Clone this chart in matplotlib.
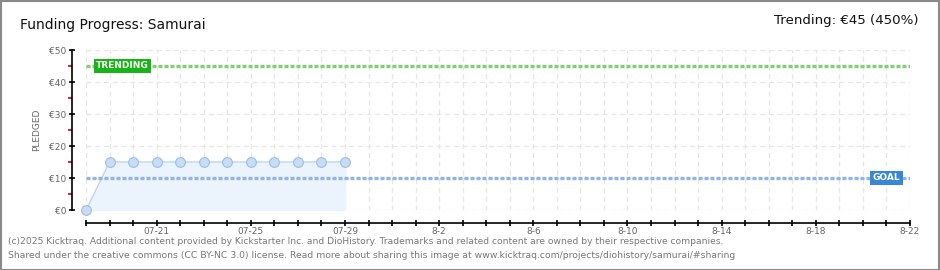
import matplotlib
matplotlib.use('agg')
import matplotlib.pyplot as plt
import matplotlib.dates as mdates
from matplotlib.patches import Rectangle
import pandas as pd
import numpy as np

# Data
dates = ['2025-07-18', '2025-07-19', '2025-07-20', '2025-07-21', '2025-07-22', '2025-07-23',
         '2025-07-24', '2025-07-25', '2025-07-26', '2025-07-27', '2025-07-28', '2025-07-29']
pledged = [0, 15, 15, 15, 15, 15, 15, 15, 15, 15, 15, 15]
goal = 10
trending = 45
x_start = '2025-07-18'
x_end = '2025-08-22'
tick_dates = ['2025-07-21', '2025-07-25', '2025-07-29', '2025-08-02', '2025-08-06',
              '2025-08-10', '2025-08-14', '2025-08-18', '2025-08-22']
tick_labels = ['07-21', '07-25', '07-29', '8-2', '8-6', '8-10', '8-14', '8-18', '8-22']
y_ticks = [0, 10, 20, 30, 40, 50]
y_labels = ['€0', '€10', '€20', '€30', '€40', '€50']

plt.rcParams['font.family'] = ['DejaVu Sans']

W, H = 940, 270
fig = plt.figure(figsize=(W / 100, H / 100), dpi=100)
fig.patch.set_facecolor('white')

# outer grey frame
fig.add_artist(Rectangle((0.5 / W, 0.5 / H), 1 - 1.5 / W, 1 - 1.5 / H, transform=fig.transFigure,
                         fill=False, edgecolor='#8a8a8a', linewidth=1.5))

ax = fig.add_axes([86 / W, 60 / H, (910 - 86) / W, 160 / H])
d = pd.to_datetime(dates)
x0 = pd.Timestamp(x_start)
x1 = pd.Timestamp(x_end)
ax.set_xlim(x0, x1)
ax.set_ylim(0, 50)

# grid
for day in pd.date_range(x0, x1, freq='D'):
    ax.axvline(day, color='#e6e6e6', linestyle=(0, (4, 3)), linewidth=0.9, zorder=0)
for yv in y_ticks:
    ax.axhline(yv, color='#e6e6e6', linestyle=(0, (4, 3)), linewidth=0.9, zorder=0)

# pledged series
ax.fill_between(d, pledged, 0, color='#ebf3fc', zorder=1)
ax.plot(d, pledged, color='#bcd6f2', linewidth=1.0, zorder=2)
ax.plot(d, pledged, 'o', markersize=7, markerfacecolor='#c6ddf6',
        markeredgecolor='#9dbde2', markeredgewidth=0.8, zorder=3, clip_on=False)

# goal and trending lines
ax.axhline(goal, color='#93b5dd', linestyle=(0, (1.2, 0.6)), linewidth=2.4, zorder=2)
ax.axhline(trending, color='#84cd78', linestyle=(0, (1.2, 0.6)), linewidth=2.4, zorder=2)
ax.text(pd.Timestamp('2025-07-18 10:00'), trending, 'TRENDING', color='white', fontsize=6.5,
        fontweight='bold', va='center', ha='left', zorder=4,
        bbox=dict(boxstyle='square,pad=0.25', facecolor='#17b517', edgecolor='none'))
ax.text(pd.Timestamp('2025-08-20 10:00'), goal, 'GOAL', color='white', fontsize=6.5,
        fontweight='bold', va='center', ha='left', zorder=4,
        bbox=dict(boxstyle='square,pad=0.3', facecolor='#3a86d6', edgecolor='none'))

# axes styling
for s in ['top', 'right']:
    ax.spines[s].set_visible(False)
ax.spines['left'].set_position(('outward', 10))
ax.spines['bottom'].set_position(('outward', 9))
ax.spines['left'].set_linewidth(1.2)
ax.spines['bottom'].set_linewidth(1.2)

ax.set_yticks(y_ticks)
ax.set_yticklabels(y_labels, fontsize=6.5, color='#666666')
ax.set_yticks([5, 15, 25, 35, 45], minor=True)
ax.tick_params(axis='y', which='major', direction='inout', length=4, width=1.2, color='black', pad=2)
ax.tick_params(axis='y', which='minor', direction='out', length=2.6, width=1.3, color='#ff0000', left=True)

ax.set_xticks(pd.to_datetime(tick_dates))
ax.set_xticklabels(tick_labels, fontsize=6.5, color='#666666')
ax.xaxis.set_minor_locator(mdates.DayLocator())
ax.tick_params(axis='x', which='major', direction='inout', length=4.5, width=1.2, color='black', pad=1)
ax.tick_params(axis='x', which='minor', direction='inout', length=4.5, width=1.2, color='black')

ax.set_ylabel('PLEDGED', fontsize=6.5, color='#666666', labelpad=6)

# titles
fig.text(20 / W, 1 - 25 / H, 'Funding Progress: Samurai', fontsize=10, color='#111111',
         ha='left', va='center')
fig.text(918 / W, 1 - 21 / H, 'Trending: €45 (450%)', fontsize=9.6, color='#111111',
         ha='right', va='center')

# footer
fig.text(8 / W, 1 - 242 / H,
         '(c)2025 Kicktraq. Additional content provided by Kickstarter Inc. and DioHistory. '
         'Trademarks and related content are owned by their respective companies.',
         fontsize=6.6, color='#777777', ha='left', va='center')
fig.text(8 / W, 1 - 256 / H,
         'Shared under the creative commons (CC BY-NC 3.0) license. Read more about sharing this '
         'image at www.kicktraq.com/projects/diohistory/samurai/#sharing',
         fontsize=6.7, color='#777777', ha='left', va='center')

fig.savefig('out.png', dpi=100, facecolor='white')
